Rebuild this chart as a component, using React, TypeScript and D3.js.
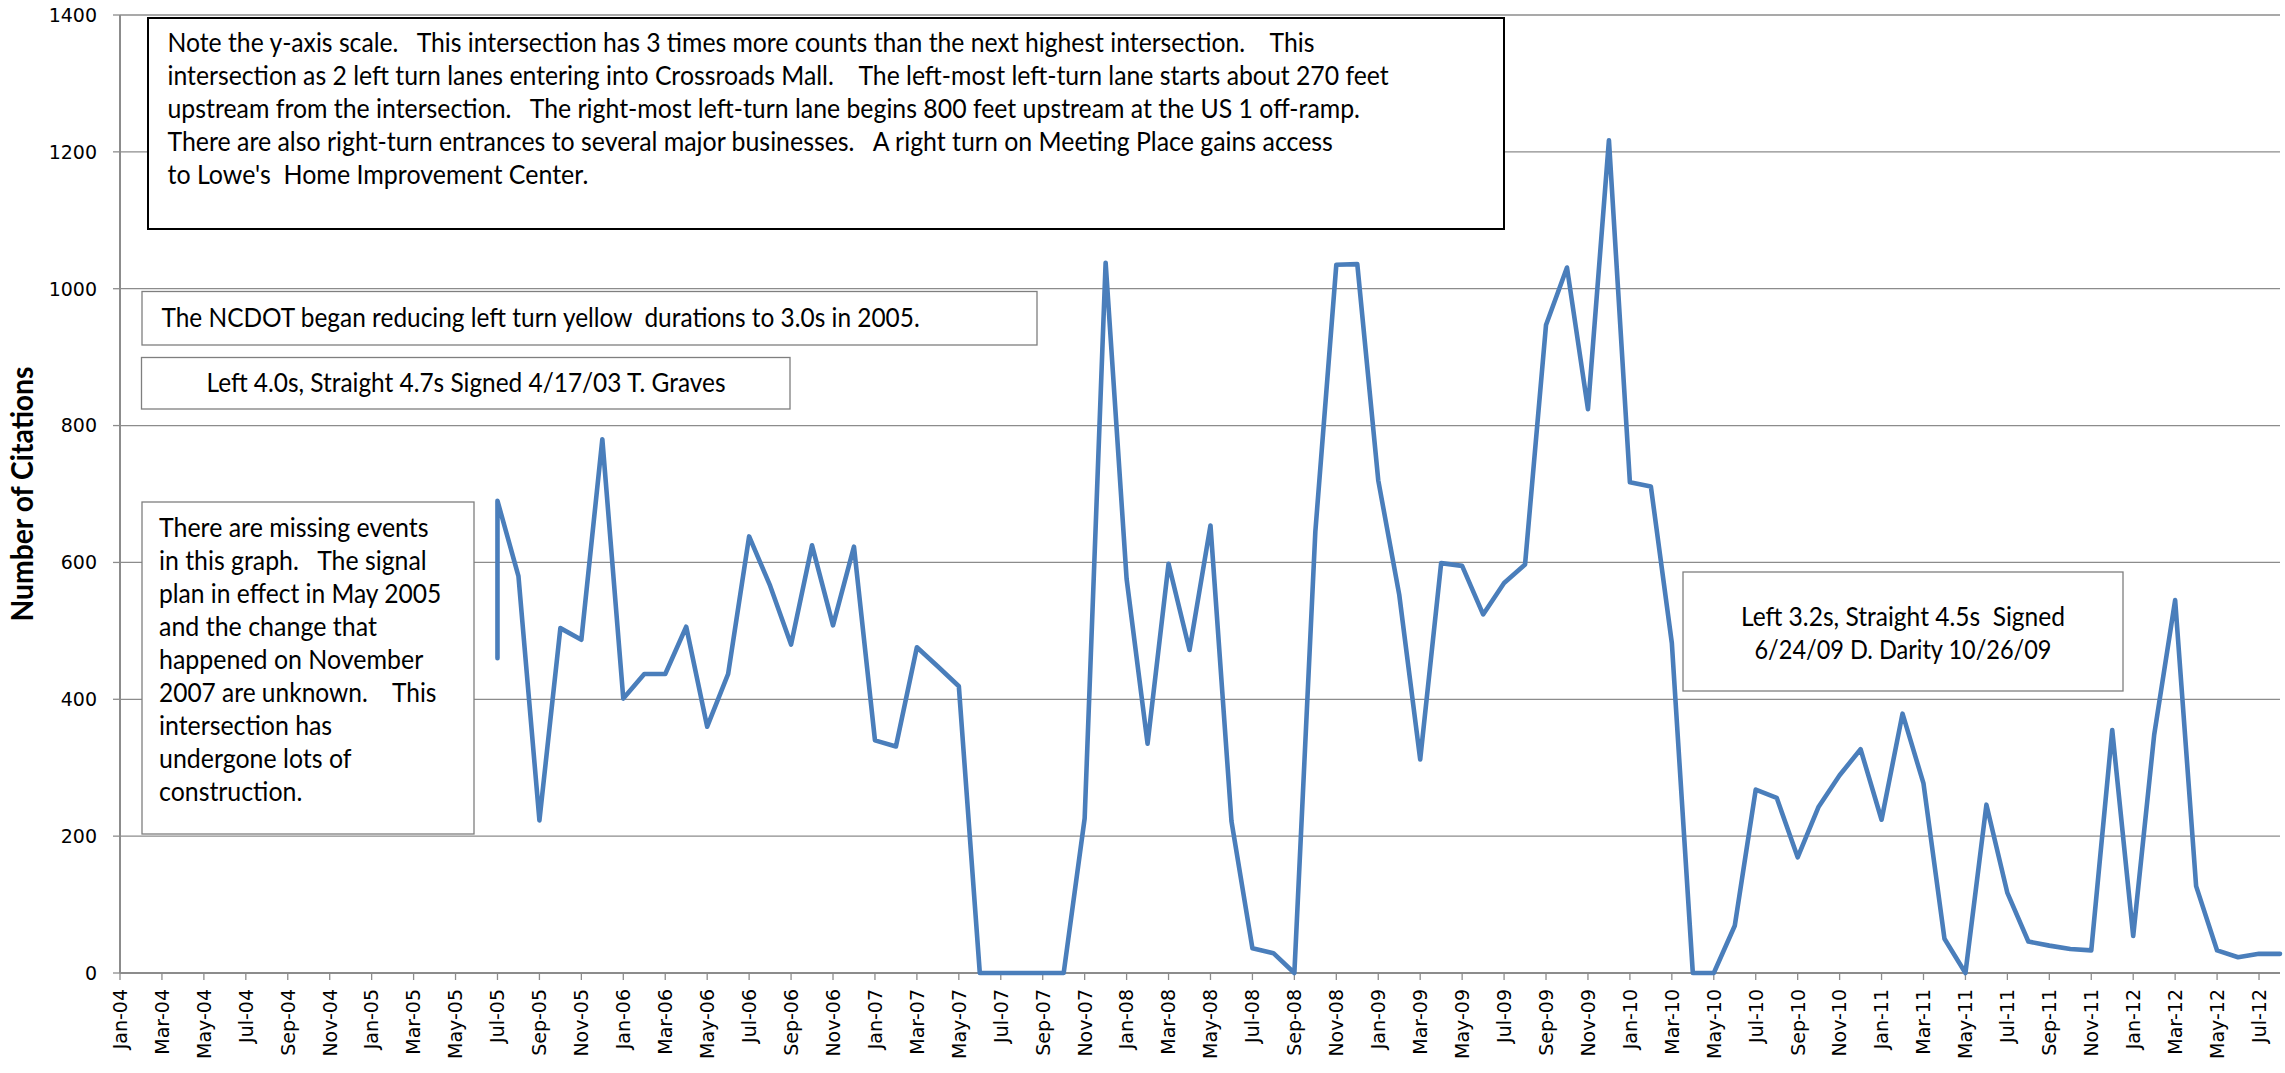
import React from 'react';
import * as d3 from 'd3';

const monthNames = ['Jan', 'Feb', 'Mar', 'Apr', 'May', 'Jun', 'Jul', 'Aug', 'Sep', 'Oct', 'Nov', 'Dec'];
const yearSuffixes = ['04', '05', '06', '07', '08', '09', '10', '11', '12'];
const lastCategory = 'Aug-12';
const allMonths = yearSuffixes.flatMap((yy) => monthNames.map((m) => `${m}-${yy}`));
const categories = allMonths.slice(0, allMonths.indexOf(lastCategory) + 1);

const pointMonths = [
  'Jul-05', 'Jul-05', 'Aug-05', 'Sep-05', 'Oct-05', 'Nov-05', 'Dec-05',
  'Jan-06', 'Feb-06', 'Mar-06', 'Apr-06', 'May-06', 'Jun-06', 'Jul-06', 'Aug-06', 'Sep-06', 'Oct-06', 'Nov-06', 'Dec-06',
  'Jan-07', 'Feb-07', 'Mar-07', 'Apr-07', 'May-07', 'Jun-07', 'Jul-07', 'Aug-07', 'Sep-07', 'Oct-07', 'Nov-07', 'Dec-07',
  'Jan-08', 'Feb-08', 'Mar-08', 'Apr-08', 'May-08', 'Jun-08', 'Jul-08', 'Aug-08', 'Sep-08', 'Oct-08', 'Nov-08', 'Dec-08',
  'Jan-09', 'Feb-09', 'Mar-09', 'Apr-09', 'May-09', 'Jun-09', 'Jul-09', 'Aug-09', 'Sep-09', 'Oct-09', 'Nov-09', 'Dec-09',
  'Jan-10', 'Feb-10', 'Mar-10', 'Apr-10', 'May-10', 'Jun-10', 'Jul-10', 'Aug-10', 'Sep-10', 'Oct-10', 'Nov-10', 'Dec-10',
  'Jan-11', 'Feb-11', 'Mar-11', 'Apr-11', 'May-11', 'Jun-11', 'Jul-11', 'Aug-11', 'Sep-11', 'Oct-11', 'Nov-11', 'Dec-11',
  'Jan-12', 'Feb-12', 'Mar-12', 'Apr-12', 'May-12', 'Jun-12', 'Jul-12', 'Aug-12',
];
const citations = [
  460, 690, 580, 223, 504, 487, 780,
  401, 437, 437, 506, 360, 437, 638, 566, 480, 625, 508, 623,
  340, 331, 476, 448, 419, 0, 0, 0, 0, 0, 226, 1038,
  576, 335, 598, 472, 654, 222, 36, 29, 0, 645, 1035, 1036,
  720, 553, 312, 599, 595, 524, 570, 597, 947, 1031, 824, 1217,
  717, 711, 482, 0, 0, 69, 268, 256, 169, 243, 289, 327,
  224, 379, 277, 50, 0, 246, 117, 46, 40, 35, 33, 355,
  54, 348, 545, 127, 33, 23, 28, 28,
];
const yTicks = [0, 200, 400, 600, 800, 1000, 1200, 1400];
const yTitle = 'Number of Citations';

const note1Lines = [
  'Note the y-axis scale.   This intersection has 3 times more counts than the next highest intersection.    This',
  'intersection as 2 left turn lanes entering into Crossroads Mall.    The left-most left-turn lane starts about 270 feet',
  'upstream from the intersection.   The right-most left-turn lane begins 800 feet upstream at the US 1 off-ramp.',
  'There are also right-turn entrances to several major businesses.   A right turn on Meeting Place gains access',
  "to Lowe's  Home Improvement Center.",
];
const note2Lines = ['The NCDOT began reducing left turn yellow  durations to 3.0s in 2005.'];
const note3Lines = ['Left 4.0s, Straight 4.7s Signed 4/17/03 T. Graves'];
const note4Lines = [
  'There are missing events',
  'in this graph.   The signal',
  'plan in effect in May 2005',
  'and the change that',
  'happened on November',
  '2007 are unknown.    This',
  'intersection has',
  'undergone lots of',
  'construction.',
];
const note5Lines = ['Left 3.2s, Straight 4.5s  Signed', '6/24/09 D. Darity 10/26/09'];

// approximate Calibri advance widths (1/1000 em), used to size substitute-font text
const calibriW: Record<string, number> = {
  ' ': 226, '!': 326, "'": 221, ',': 250, '-': 306, '.': 252, '/': 386, ':': 268,
  '0': 507, '1': 507, '2': 507, '3': 507, '4': 507, '5': 507, '6': 507, '7': 507, '8': 507, '9': 507,
  A: 579, B: 544, C: 533, D: 615, E: 488, F: 459, G: 631, H: 623, I: 252, J: 319, K: 520, L: 420, M: 855,
  N: 646, O: 662, P: 517, Q: 673, R: 543, S: 459, T: 487, U: 642, V: 567, W: 890, X: 519, Y: 487, Z: 468,
  a: 479, b: 525, c: 423, d: 525, e: 498, f: 305, g: 471, h: 525, i: 229, j: 239, k: 455, l: 229, m: 799,
  n: 525, o: 527, p: 525, q: 525, r: 349, s: 391, t: 335, u: 525, v: 452, w: 715, x: 433, y: 453, z: 395,
};
const calibriWidth = (s: string, size: number) =>
  s.split('').reduce((acc, ch) => acc + (calibriW[ch] ?? 500), 0) * size / 1000;

const FONT = 'Lato, "Open Sans", sans-serif';
const TICK_FONT = '"DejaVu Sans", Verdana, sans-serif';
const NOTE_SIZE = 26.7;
const LINE_H = 33;

type Box = { x: number; y: number; w: number; h: number; lines: string[]; align: 'start' | 'middle'; tx: number; ty: number; stroke: string; sw: number };

export default function App() {
  const W = 2285;
  const H = 1073;
  const x = d3.scaleLinear().domain([0, categories.length - 1]).range([120, 2280]);
  const y = d3.scaleLinear().domain([0, 1400]).range([973, 15]);

  const pts: [number, number][] = pointMonths.map((m, i) => [x(categories.indexOf(m)), y(citations[i])]);
  const path = d3.line()(pts) ?? '';

  const boxes: Box[] = [
    { x: 148, y: 18, w: 1356, h: 211, lines: note1Lines, align: 'start', tx: 167.5, ty: 43, stroke: '#000', sw: 2 },
    { x: 142, y: 291.5, w: 895, h: 53.5, lines: note2Lines, align: 'start', tx: 161.5, ty: 318, stroke: '#7f7f7f', sw: 1.3 },
    { x: 141.5, y: 357.5, w: 648.5, h: 51.5, lines: note3Lines, align: 'middle', tx: 466, ty: 383, stroke: '#7f7f7f', sw: 1.3 },
    { x: 142, y: 502, w: 332, h: 332, lines: note4Lines, align: 'start', tx: 159, ty: 528, stroke: '#7f7f7f', sw: 1.3 },
    { x: 1683, y: 572, w: 440, h: 119, lines: note5Lines, align: 'middle', tx: 1903, ty: 617, stroke: '#7f7f7f', sw: 1.3 },
  ];

  const [x0, x1] = x.range();
  const y0 = y(0);

  return (
    <svg width={W} height={H} style={{ position: 'absolute', left: 0, top: 0, background: '#fff' }}>
      <rect x={0} y={0} width={W} height={H} fill="#fff" />
      {/* gridlines */}
      {yTicks.filter((t) => t > 0).map((t) => (
        <line key={`g${t}`} x1={x0} x2={x1} y1={y(t)} y2={y(t)} stroke="#8c8c8c" strokeWidth={1.3} />
      ))}
      {/* y axis */}
      <line x1={x0} x2={x0} y1={y(1400)} y2={y0} stroke="#8c8c8c" strokeWidth={2} />
      {yTicks.map((t) => (
        <g key={`yt${t}`}>
          <line x1={x0 - 7} x2={x0} y1={y(t)} y2={y(t)} stroke="#8c8c8c" strokeWidth={1.3} />
          <text x={97} y={y(t)} dy="0.36em" textAnchor="end" fontFamily={TICK_FONT} fontSize={19} fill="#000">
            {t}
          </text>
        </g>
      ))}
      {/* x axis */}
      <line x1={x0} x2={x1} y1={y0} y2={y0} stroke="#8c8c8c" strokeWidth={2} />
      {categories.map((c, i) =>
        i % 2 === 0 ? (
          <g key={`xt${c}`}>
            <line x1={x(i)} x2={x(i)} y1={y0} y2={y0 + 7} stroke="#8c8c8c" strokeWidth={1.3} />
            <text
              transform={`translate(${x(i)},${y0 + 16}) rotate(-90)`}
              dy="0.36em"
              textAnchor="end"
              fontFamily={TICK_FONT}
              fontSize={19}
              fill="#000"
            >
              {c}
            </text>
          </g>
        ) : null,
      )}
      {/* y title */}
      <text
        transform={`translate(33,494) rotate(-90)`}
        textAnchor="middle"
        fontFamily={FONT}
        fontWeight="bold"
        fontSize={31}
        textLength={255}
        lengthAdjust="spacingAndGlyphs"
        fill="#000"
      >
        {yTitle}
      </text>
      {/* series line */}
      <path d={path} fill="none" stroke="#4A7EBB" strokeWidth={4.6} strokeLinejoin="round" strokeLinecap="round" />
      {/* annotation boxes */}
      {boxes.map((b, bi) => (
        <g key={`box${bi}`}>
          <rect x={b.x} y={b.y} width={b.w} height={b.h} fill="#fff" stroke={b.stroke} strokeWidth={b.sw} />
          {b.lines.map((ln, li) => (
            <text
              key={li}
              x={b.tx}
              y={b.ty + li * LINE_H}
              dy="0.35em"
              textAnchor={b.align}
              fontFamily={FONT}
              fontSize={NOTE_SIZE}
              fill="#000"
              textLength={calibriWidth(ln, NOTE_SIZE)}
              lengthAdjust="spacingAndGlyphs"
              style={{ whiteSpace: 'pre' }}
            >
              {ln}
            </text>
          ))}
        </g>
      ))}
    </svg>
  );
}
